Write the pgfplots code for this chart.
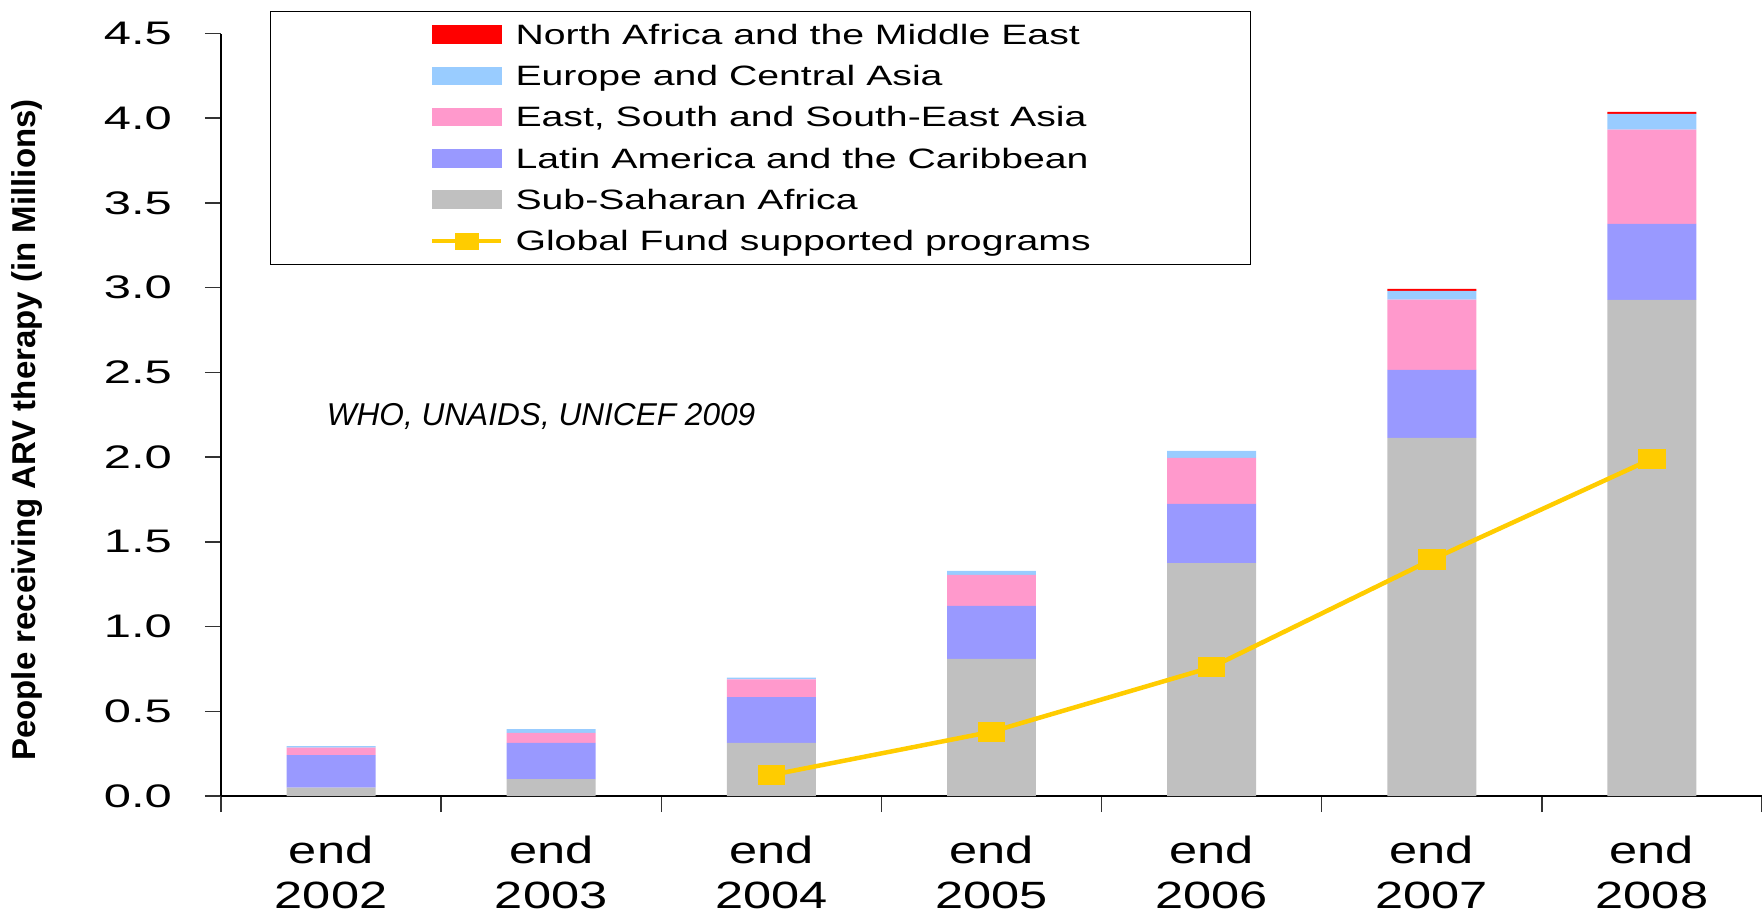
\documentclass[border=0pt]{standalone}
\usepackage{fontspec}
\setmainfont{Liberation Sans}
\newfontfamily\tickfont{Liberation Sans}[FakeStretch=1.5]
\newfontfamily\catfont{Liberation Sans}[FakeStretch=1.33]
\newfontfamily\legfont{Liberation Sans}[FakeStretch=1.4]
\usepackage{pgfplots}
\pgfplotsset{compat=1.18}
\usepackage{pgfplotstable}

\definecolor{namecol}{HTML}{FF0000}
\definecolor{ecacol}{HTML}{99CCFF}
\definecolor{eseacol}{HTML}{FF99CC}
\definecolor{laccol}{HTML}{9999FF}
\definecolor{ssacol}{HTML}{C0C0C0}
\definecolor{gfcol}{HTML}{FFCC00}

\pgfplotsset{
  swatch/.style={legend image code/.code={\fill[#1] (0pt,-4.4pt) rectangle (34.5pt,4.4pt);}},
  gfswatch/.style={legend image code/.code={%
      \draw[gfcol, line width=2.25pt] (0pt,0pt) -- (34.5pt,0pt);
      \fill[gfcol] (11.5pt,-4pt) rectangle (23pt,4pt);}},
}

% people on ARV therapy, millions (end of year 2002..2008)
\pgfplotstableread{
x ssa lac esea eca name
0 0.049 0.193 0.043 0.010 0.000
1 0.100 0.213 0.059 0.023 0.000
2 0.313 0.271 0.105 0.009 0.000
3 0.810 0.312 0.183 0.023 0.000
4 1.375 0.349 0.271 0.042 0.000
5 2.113 0.402 0.415 0.051 0.012
6 2.928 0.449 0.556 0.093 0.012
}\artdata

\pgfplotstableread{
x gf
2 0.124
3 0.379
4 0.760
5 1.395
6 1.990
}\gfdata

\begin{document}
\begin{tikzpicture}
\begin{axis}[
  name=ax,
  set layers,
  scale only axis,
  width=770.5pt, height=381.25pt,
  xmin=-0.5, xmax=6.5, ymin=0, ymax=4.5,
  axis x line=bottom, axis y line=left,
  axis line style={-, black, line width=0.75pt},
  tick align=outside, major tick length=8pt,
  tick style={black!80, line width=0.75pt},
  ytick={0,0.5,1,1.5,2,2.5,3,3.5,4,4.5},
  yticklabel={\tickfont\fontsize{16.3}{18}\selectfont\pgfmathprintnumber[fixed,fixed zerofill,precision=1,assume math mode=true]{\tick}},
  yticklabel style={xshift=-13pt},
  xtick={-0.5,0.5,1.5,2.5,3.5,4.5,5.5,6.5},
  x tick label as interval,
  xticklabels={{end\\2002},{end\\2003},{end\\2004},{end\\2005},{end\\2006},{end\\2007},{end\\2008}},
  xticklabel style={align=center, font=\catfont\fontsize{19}{22.5}\selectfont, yshift=-8.5pt},
  ylabel={People receiving ARV therapy (in Millions)},
  ylabel style={font=\bfseries\fontsize{16.5}{18}\selectfont, at={(axis description cs:-0.126,0.48)}, anchor=center},
  ybar stacked, bar width=0.404,
  legend style={at={(axis description cs:0.0315,1.0295)}, anchor=north west,
    draw=black, line width=0.5pt, fill=white,
    font=\legfont\fontsize{14}{16}\selectfont,
    inner xsep=80pt, inner ysep=3.1pt, row sep=3.85pt, column sep=6pt,
    nodes={inner sep=0pt, text height=13.3pt, text depth=3.5pt}},
  legend cell align=left,
]
\addlegendimage{swatch=namecol}\addlegendentry{North Africa and the Middle East}
\addlegendimage{swatch=ecacol}\addlegendentry{Europe and Central Asia}
\addlegendimage{swatch=eseacol}\addlegendentry{East, South and South-East Asia}
\addlegendimage{swatch=laccol}\addlegendentry{Latin America and the Caribbean}
\addlegendimage{swatch=ssacol}\addlegendentry{Sub-Saharan Africa}
\addlegendimage{gfswatch}\addlegendentry{Global Fund supported programs}

\addplot[fill=ssacol, draw=none, forget plot] table[x=x, y=ssa] {\artdata};
\addplot[fill=laccol, draw=none, forget plot] table[x=x, y=lac] {\artdata};
\addplot[fill=eseacol, draw=none, forget plot] table[x=x, y=esea] {\artdata};
\addplot[fill=ecacol, draw=none, forget plot] table[x=x, y=eca] {\artdata};
\addplot[fill=namecol, draw=none, forget plot] table[x=x, y=name] {\artdata};

\addplot[on layer=axis foreground, sharp plot, stack plots=false, forget plot,
  gfcol, line width=2.25pt,
  mark=square*, mark size=4pt, mark options={xscale=1.44, draw=none, fill=gfcol}]
  table[x=x, y=gf] {\gfdata};

\node[font=\itshape\fontsize{15.8}{18}\selectfont] at (axis description cs:0.2077,0.498) {WHO, UNAIDS, UNICEF 2009};
\end{axis}
\pgfresetboundingbox
\path ([shift={(-110.5pt,-61pt)}]ax.south west) rectangle ([shift={(770.5pt,398pt)}]ax.south west);
\end{tikzpicture}
\end{document}
